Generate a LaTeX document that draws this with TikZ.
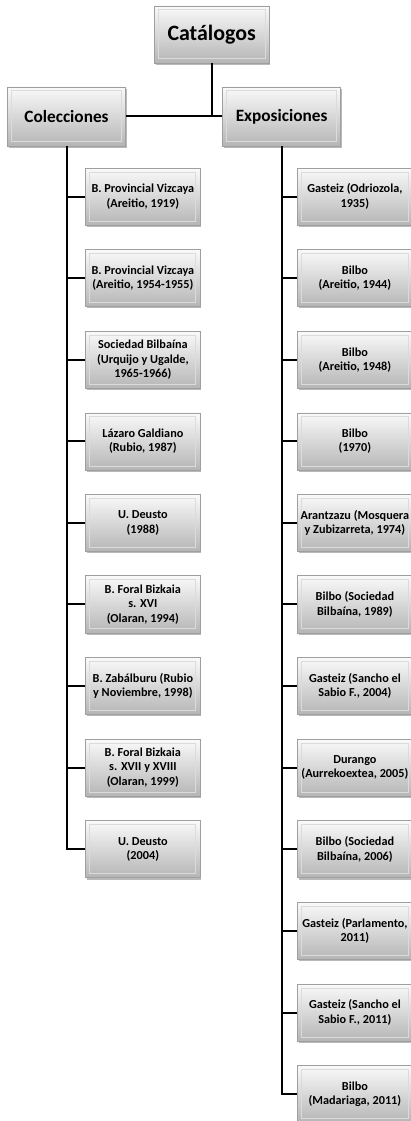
\documentclass[tikz,border=0pt]{standalone}
\usepackage{fontspec}
\setmainfont{Carlito}
\usetikzlibrary{shadows}

\tikzset{
    catbox/.style={rectangle, draw=gray!75, line width=0.5pt, top color=gray!4, bottom color=gray!58,
        drop shadow={shadow xshift=1pt, shadow yshift=-1.3pt, opacity=0.55},
        path picture={\draw[gray!28, line width=0.7pt]
            ([shift={(3pt,3pt)}]path picture bounding box.south west) rectangle
            ([shift={(-3pt,-3pt)}]path picture bounding box.north east);},
        align=center, inner sep=1pt, text=black},
    rootbox/.style={catbox, minimum width=3.04cm, minimum height=1.51cm, font=\bfseries\fontsize{16.5}{18}\selectfont},
    groupbox/.style={catbox, minimum width=3.12cm, minimum height=1.56cm, font=\bfseries\fontsize{13}{15}\selectfont},
    itembox/.style={catbox, minimum width=3.02cm, minimum height=1.51cm, font=\bfseries\fontsize{9.2}{10.8}\selectfont},
    link/.style={draw, line width=1.5pt}
}

\begin{document}
\begin{tikzpicture}

\useasboundingbox (0,0) rectangle (10.85,-29.66);

% ===== Top levels =====
\node[rootbox]  (cat) at (5.60,-0.91) {Catálogos};
\node[groupbox] (col) at (1.76,-3.08) {Colecciones};
\node[groupbox] (exp) at (7.45,-3.08) {Exposiciones};
\draw[link] (cat.south) |- (col.east);
\draw[link] (cat.south) |- (exp.west);

% ===== Colecciones =====
\begin{scope}
    \node[itembox] (c1) at (3.78,-5.20)  {B. Provincial Vizcaya\\(Areitio, 1919)};
    \node[itembox] (c2) at (3.78,-7.36)  {B. Provincial Vizcaya\\(Areitio, 1954-1955)};
    \node[itembox] (c3) at (3.78,-9.52)  {Sociedad Bilbaína\\(Urquijo y Ugalde,\\1965-1966)};
    \node[itembox] (c4) at (3.78,-11.68) {Lázaro Galdiano\\(Rubio, 1987)};
    \node[itembox] (c5) at (3.78,-13.84) {U. Deusto\\(1988)};
    \node[itembox] (c6) at (3.78,-15.99) {B. Foral Bizkaia\\s. XVI\\(Olaran, 1994)};
    \node[itembox] (c7) at (3.78,-18.15) {B. Zabálburu (Rubio\\y Noviembre, 1998)};
    \node[itembox] (c8) at (3.78,-20.31) {B. Foral Bizkaia\\s. XVII y XVIII\\(Olaran, 1999)};
    \node[itembox] (c9) at (3.78,-22.47) {U. Deusto\\(2004)};
    \draw[link] (col.south) |- (c1.west);
    \draw[link] (col.south) |- (c2.west);
    \draw[link] (col.south) |- (c3.west);
    \draw[link] (col.south) |- (c4.west);
    \draw[link] (col.south) |- (c5.west);
    \draw[link] (col.south) |- (c6.west);
    \draw[link] (col.south) |- (c7.west);
    \draw[link] (col.south) |- (c8.west);
    \draw[link] (col.south) |- (c9.west);
\end{scope}

% ===== Exposiciones =====
\begin{scope}
    \node[itembox] (e1)  at (9.39,-5.20)  {Gasteiz (Odriozola,\\1935)};
    \node[itembox] (e2)  at (9.39,-7.36)  {Bilbo\\(Areitio, 1944)};
    \node[itembox] (e3)  at (9.39,-9.52)  {Bilbo\\(Areitio, 1948)};
    \node[itembox] (e4)  at (9.39,-11.68) {Bilbo\\(1970)};
    \node[itembox] (e5)  at (9.39,-13.84) {Arantzazu (Mosquera\\y Zubizarreta, 1974)};
    \node[itembox] (e6)  at (9.39,-15.99) {Bilbo (Sociedad\\Bilbaína, 1989)};
    \node[itembox] (e7)  at (9.39,-18.15) {Gasteiz (Sancho el\\Sabio F., 2004)};
    \node[itembox] (e8)  at (9.39,-20.31) {Durango\\(Aurrekoextea, 2005)};
    \node[itembox] (e9)  at (9.39,-22.47) {Bilbo (Sociedad\\Bilbaína, 2006)};
    \node[itembox] (e10) at (9.39,-24.63) {Gasteiz (Parlamento,\\2011)};
    \node[itembox] (e11) at (9.39,-26.79) {Gasteiz (Sancho el\\Sabio F., 2011)};
    \node[itembox] (e12) at (9.39,-28.95) {Bilbo\\(Madariaga, 2011)};
    \draw[link] (exp.south) |- (e1.west);
    \draw[link] (exp.south) |- (e2.west);
    \draw[link] (exp.south) |- (e3.west);
    \draw[link] (exp.south) |- (e4.west);
    \draw[link] (exp.south) |- (e5.west);
    \draw[link] (exp.south) |- (e6.west);
    \draw[link] (exp.south) |- (e7.west);
    \draw[link] (exp.south) |- (e8.west);
    \draw[link] (exp.south) |- (e9.west);
    \draw[link] (exp.south) |- (e10.west);
    \draw[link] (exp.south) |- (e11.west);
    \draw[link] (exp.south) |- (e12.west);
\end{scope}

\end{tikzpicture}
\end{document}
